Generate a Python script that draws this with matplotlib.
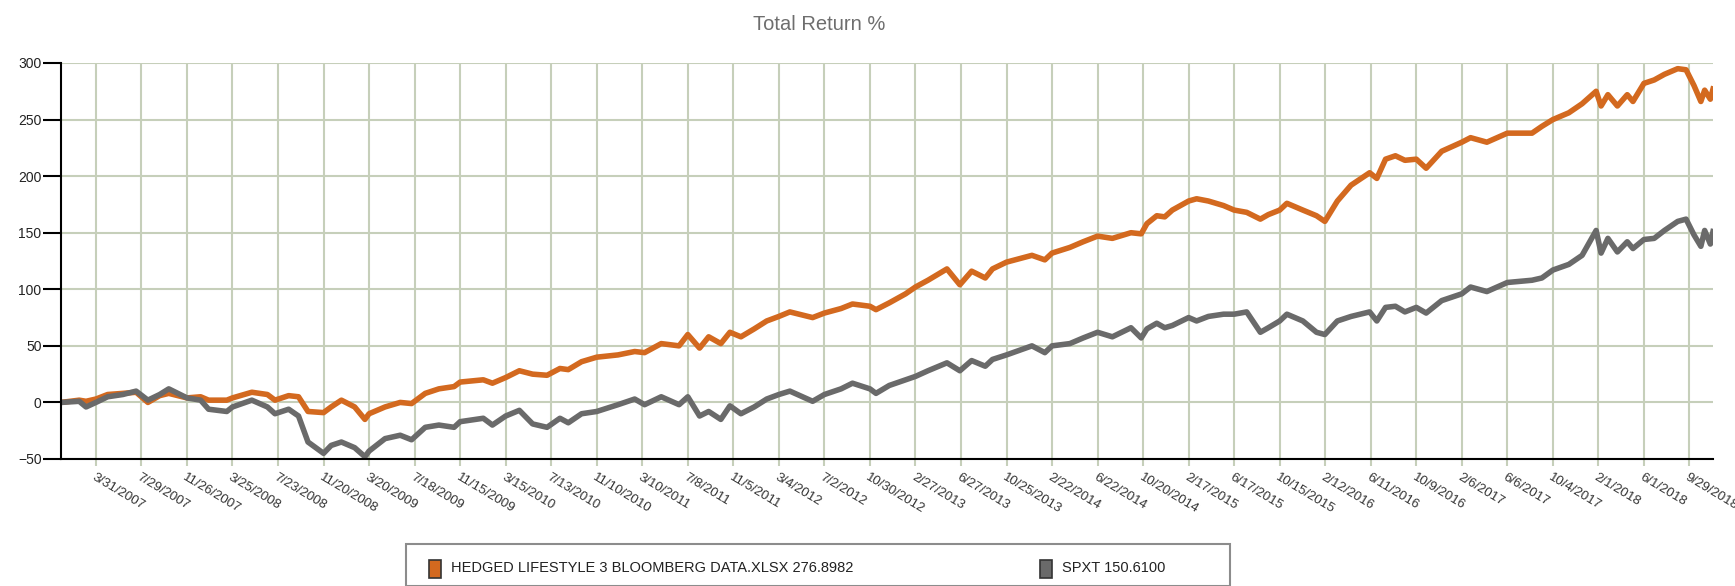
import matplotlib
matplotlib.use("Agg")
import matplotlib.pyplot as plt
from matplotlib.patches import Rectangle
import pandas as pd

plt.rcParams['font.family'] = ['Liberation Sans', 'DejaVu Sans']

# values (total return %)
dates = [
    "2006-12-29", "2007-02-15", "2007-03-05", "2007-03-31", "2007-05-01", "2007-06-10",
    "2007-07-15", "2007-08-15", "2007-09-15", "2007-10-09", "2007-11-26", "2008-01-01",
    "2008-01-22", "2008-03-10", "2008-03-25", "2008-05-15", "2008-06-25", "2008-07-15",
    "2008-08-20", "2008-09-15", "2008-10-10", "2008-11-20", "2008-12-10", "2009-01-06",
    "2009-02-10", "2009-03-09", "2009-03-20", "2009-05-01", "2009-06-10", "2009-07-10",
    "2009-08-15", "2009-09-20", "2009-10-30", "2009-11-15", "2010-01-15", "2010-02-08",
    "2010-03-15", "2010-04-20", "2010-05-25", "2010-07-02", "2010-08-05", "2010-08-27",
    "2010-10-01", "2010-11-10", "2011-01-05", "2011-02-18", "2011-03-16", "2011-04-29",
    "2011-06-15", "2011-07-08", "2011-08-08", "2011-09-01", "2011-10-03", "2011-10-27",
    "2011-11-25", "2011-12-30", "2012-02-01", "2012-03-04", "2012-04-02", "2012-06-01",
    "2012-07-02", "2012-08-15", "2012-09-14", "2012-10-30", "2012-11-15", "2012-12-20",
    "2013-02-01", "2013-02-27", "2013-04-01", "2013-05-21", "2013-06-24", "2013-07-25",
    "2013-08-30", "2013-09-18", "2013-10-25", "2013-12-31", "2014-02-03", "2014-02-22",
    "2014-04-10", "2014-05-15", "2014-06-22", "2014-07-31", "2014-09-18", "2014-10-15",
    "2014-10-30", "2014-11-25", "2014-12-16", "2015-01-05", "2015-02-17", "2015-03-10",
    "2015-04-10", "2015-05-20", "2015-06-17", "2015-07-20", "2015-08-25", "2015-09-15",
    "2015-10-15", "2015-11-03", "2015-12-15", "2016-01-20", "2016-02-11", "2016-03-15",
    "2016-04-20", "2016-06-08", "2016-06-27", "2016-07-20", "2016-08-15", "2016-09-09",
    "2016-10-09", "2016-11-04", "2016-12-15", "2017-02-06", "2017-03-01", "2017-04-13",
    "2017-06-06", "2017-08-10", "2017-09-05", "2017-10-04", "2017-11-15", "2017-12-20",
    "2018-01-26", "2018-02-08", "2018-02-26", "2018-03-23", "2018-04-18", "2018-05-03",
    "2018-06-01", "2018-06-28", "2018-07-25", "2018-08-29", "2018-09-20", "2018-10-11",
    "2018-10-29", "2018-11-08", "2018-11-23", "2018-11-30",
]
hedged = [
    0, 2, 1, 3, 7, 8,
    9, 0, 6, 8, 4, 5,
    2, 2, 4, 9, 7, 2,
    6, 5, -8, -9, -4, 2,
    -4, -15, -10, -4, 0, -1,
    8, 12, 14, 18, 20, 17,
    22, 28, 25, 24, 30, 29,
    36, 40, 42, 45, 44, 52,
    50, 60, 48, 58, 52, 62,
    58, 65, 72, 76, 80, 75,
    79, 83, 87, 85, 82, 88,
    96, 102, 108, 118, 104, 116,
    110, 118, 124, 130, 126, 132,
    137, 142, 147, 145, 150, 149,
    158, 165, 164, 170, 178, 180,
    178, 174, 170, 168, 162, 166,
    170, 176, 170, 165, 160, 178,
    192, 203, 198, 215, 218, 214,
    215, 207, 222, 230, 234, 230,
    238, 238, 244, 250, 256, 264,
    275, 262, 272, 262, 272, 266,
    282, 285, 290, 295, 294, 280,
    266, 276, 268, 277,
]
spxt = [
    0, 1, -4, 0, 5, 7,
    10, 2, 7, 12, 4, 2,
    -6, -8, -4, 2, -4, -10,
    -6, -12, -35, -45, -38, -35,
    -40, -48, -43, -32, -29, -33,
    -22, -20, -22, -17, -14, -20,
    -12, -7, -19, -22, -14, -18,
    -10, -8, -2, 3, -2, 5,
    -2, 5, -12, -8, -15, -3,
    -10, -4, 3, 7, 10, 1,
    7, 12, 17, 12, 8, 15,
    20, 23, 28, 35, 28, 37,
    32, 38, 42, 50, 44, 50,
    52, 57, 62, 58, 66, 57,
    65, 70, 66, 68, 75, 72,
    76, 78, 78, 80, 62, 66,
    72, 78, 72, 62, 60, 72,
    76, 80, 72, 84, 85, 80,
    84, 79, 90, 96, 102, 98,
    106, 108, 110, 117, 122, 130,
    152, 132, 145, 133, 142, 136,
    144, 145, 152, 160, 162, 148,
    138, 152, 140, 151,
]

series_names = ["HEDGED LIFESTYLE 3 BLOOMBERG DATA.XLSX", "SPXT"]
final_values = [276.8982, 150.6100]
colors = ["#D3691F", "#6A6A6A"]

tick_labels = [
    "3/31/2007", "7/29/2007", "11/26/2007", "3/25/2008", "7/23/2008", "11/20/2008",
    "3/20/2009", "7/18/2009", "11/15/2009", "3/15/2010", "7/13/2010", "11/10/2010",
    "3/10/2011", "7/8/2011", "11/5/2011", "3/4/2012", "7/2/2012", "10/30/2012",
    "2/27/2013", "6/27/2013", "10/25/2013", "2/22/2014", "6/22/2014", "10/20/2014",
    "2/17/2015", "6/17/2015", "10/15/2015", "2/12/2016", "6/11/2016", "10/9/2016",
    "2/6/2017", "6/6/2017", "10/4/2017", "2/1/2018", "6/1/2018", "9/29/2018",
]
y_ticks = [-50, 0, 50, 100, 150, 200, 250, 300]

x = pd.to_datetime(dates)
tick_pos = pd.to_datetime(tick_labels, format="%m/%d/%Y")

W, H = 1735, 586
fig = plt.figure(figsize=(W / 100, H / 100), dpi=100)
ax = fig.add_axes([61 / W, 1 - 459 / H, (1713 - 61) / W, (459 - 63) / H])

grid_col = "#C6CFBA"
ax.plot(x, hedged, color=colors[0], lw=4.0, solid_joinstyle="round", zorder=3)
ax.plot(x, spxt, color=colors[1], lw=4.0, solid_joinstyle="round", zorder=4)

ax.set_xlim(x[0], x[-1])
ax.set_ylim(-50, 300)
ax.set_yticks(y_ticks)
ax.set_xticks(tick_pos)
ax.set_xticklabels(tick_labels, rotation=-31, ha="left", va="top",
                   rotation_mode="anchor", fontsize=9.5, color="#333333")
ax.tick_params(axis="x", length=5, width=1.5, color=grid_col, pad=4)
ax.tick_params(axis="y", length=13, width=1.5, color="black", labelsize=10,
               labelcolor="#222222", pad=1)
ax.grid(True, color=grid_col, lw=1.5, zorder=0)
ax.set_axisbelow(True)

for s in ["top", "right"]:
    ax.spines[s].set_visible(False)
ax.spines["left"].set_linewidth(1.5)
ax.spines["bottom"].set_linewidth(1.5)
ax.spines["left"].set_zorder(5)
ax.spines["bottom"].set_zorder(5)

fig.text(819 / W, 1 - 24 / H, "Total Return %", ha="center", va="center",
         fontsize=14.5, color="#6E6E6E")

# legend box at the bottom (cut by the figure edge)
fig.add_artist(Rectangle((406 / W, 0), (1230 - 406) / W, 1 - 544 / H,
                         transform=fig.transFigure, fill=False,
                         edgecolor="#8C8C8C", lw=1.5, clip_on=False))
leg_x = [429, 1040]
for lx, name, val, c in zip(leg_x, series_names, final_values, colors):
    fig.add_artist(Rectangle((lx / W, 1 - 578 / H), 12 / W, 18 / H,
                             transform=fig.transFigure, facecolor=c,
                             edgecolor="#333333", lw=1.2))
    fig.text((lx + 22) / W, 1 - 568 / H, f"{name} {val:.4f}", ha="left",
             va="center", fontsize=10.5, color="#222222")

fig.savefig("out.png", dpi=100)
